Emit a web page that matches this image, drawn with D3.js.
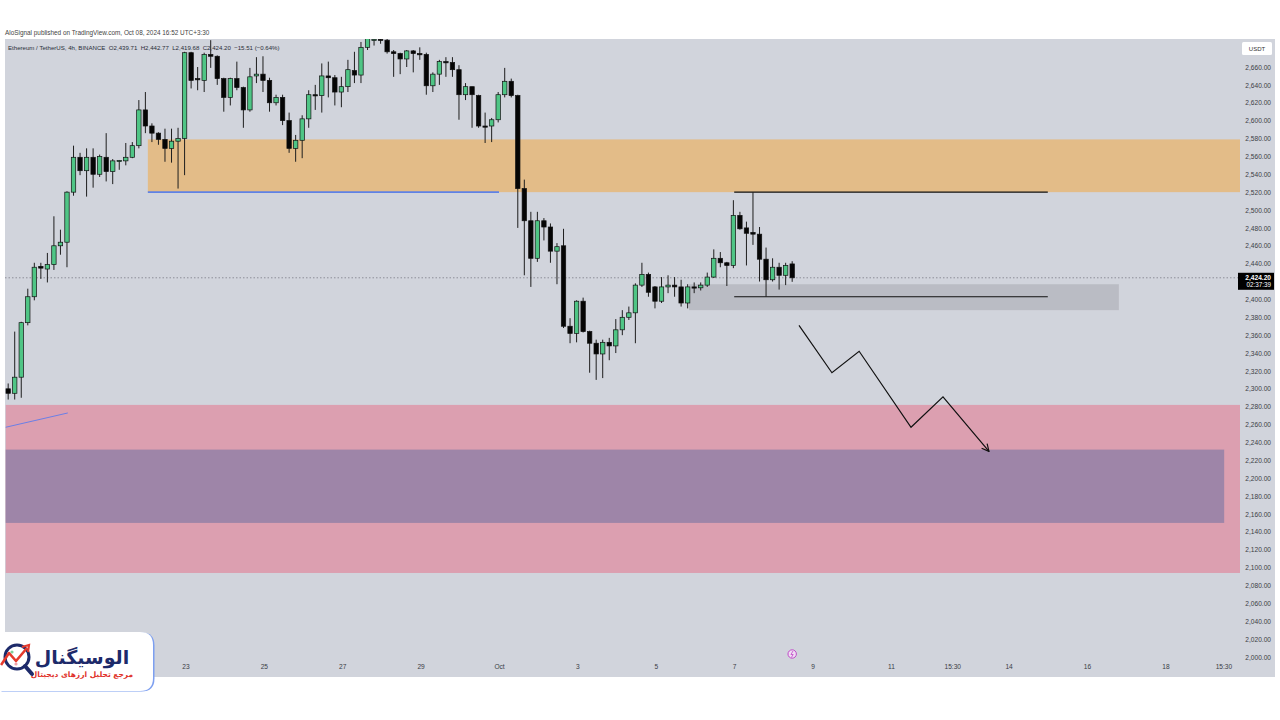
<!DOCTYPE html>
<html><head><meta charset="utf-8">
<script src="https://cdn.jsdelivr.net/npm/d3@7"></script>
<style>body{margin:0;background:#fff;} svg{display:block;font-family:"Liberation Sans",Arial,sans-serif;}</style>
</head><body><svg id="c" width="1280" height="720"></svg>
<script>
// ---------- DATA ----------
const firstCandle = "2024-09-18T11:30"; // open time (UTC+3:30) of first 4h candle
const opens  = [2300,2295,2313,2374,2403,2437,2434,2439,2460,2464,2520,2559,2544,2559,2540,2559,2543,2555,2555,2559,
                2572,2612,2594,2586,2579,2569,2577,2580,2676,2647,2645,2674,2672,2647,2626,2647,2637,2612,2650,2652,
                2645,2620,2626,2600,2569,2578,2602,2629,2628,2650,2648,2632,2638,2656,2651,2682,2690,2691,2690,2677,
                2675,2669,2678,2675,2674,2639,2652,2666,2665,2657,2629,2638,2628,2594,2594,2601,2629,2644,2628,2524,
                2488,2446,2488,2481,2454,2460,2370,2362,2398,2364,2351,2339,2352,2348,2366,2380,2385,2416,2428,2414,
                2398,2414,2416,2414,2396,2414,2413,2416,2425,2446,2441,2438,2494,2480,2475,2473,2445,2422,2436,2427,2439.71];
const highs  = [2306,2364,2375,2412,2441,2441,2452,2493,2478,2521,2572,2564,2569,2569,2562,2586,2557,2556,2575,2576,
                2623,2632,2597,2587,2591,2591,2592,2677,2677,2660,2676,2690,2673,2648,2648,2666,2638,2659,2671,2672,
                2648,2629,2629,2609,2584,2606,2634,2640,2664,2666,2651,2649,2668,2677,2688,2700,2696,2698,2698,2679,
                2676,2679,2679,2682,2676,2654,2668,2671,2671,2662,2642,2638,2629,2609,2603,2632,2659,2647,2629,2534,
                2498,2498,2491,2485,2463,2479,2379,2399,2402,2365,2355,2355,2357,2378,2388,2392,2418,2441,2430,2415,
                2425,2427,2425,2422,2417,2419,2419,2430,2456,2453,2442,2511,2498,2487,2520,2481,2458,2446,2441,2441,2442.77];
const lows   = [2288,2288,2290,2371,2399,2423,2419,2433,2450,2436,2516,2539,2515,2525,2537,2532,2529,2545,2550,2558,
                2569,2586,2576,2573,2554,2553,2524,2539,2636,2634,2632,2659,2640,2610,2617,2634,2592,2610,2642,2632,
                2610,2617,2595,2564,2554,2558,2592,2612,2609,2626,2617,2615,2632,2642,2642,2679,2684,2686,2675,2649,
                2652,2660,2654,2668,2629,2632,2640,2649,2649,2601,2623,2592,2592,2575,2576,2598,2626,2626,2480,2427,
                2414,2442,2466,2441,2417,2368,2351,2352,2363,2318,2310,2312,2332,2340,2360,2377,2351,2414,2403,2390,
                2396,2407,2403,2392,2390,2407,2410,2414,2424,2436,2415,2435,2478,2438,2461,2420,2403,2420,2411,2416,2419.68];
const closes = [2295,2313,2374,2403,2436,2435,2439,2460,2464,2520,2559,2544,2559,2540,2560,2543,2555,2555.5,2559,2572,
                2612,2594,2586,2579,2569,2577,2580,2676,2645,2646,2674,2672,2647,2626,2647,2637,2612,2649,2652,2645,
                2620,2626,2600,2569,2578,2602,2629,2628,2650,2648,2632,2638,2657,2651,2682,2692,2691,2690,2677,2675,
                2669,2678,2675,2674,2639,2652,2666,2665,2657,2629,2638,2629,2594,2593,2601,2629,2644,2628,2524,2488,
                2446,2488,2481,2454,2459,2370,2362,2398,2364,2351,2339,2352,2348,2366,2380,2385,2416,2428,2408,2398,
                2414,2416,2414,2396,2414,2413,2416,2425,2446,2441,2438,2494,2479,2474,2473,2445,2422,2436,2427,2438,2424.20];
const lastPrice = 2424.20;
const countdown = "02:37:39";
const priceTicks = [2000,2020,2040,2060,2080,2100,2120,2140,2160,2180,2200,2220,2240,2260,2280,2300,2320,2340,2360,2380,
                    2400,2440,2460,2480,2500,2520,2540,2560,2580,2600,2620,2640,2660];
const timeTickTimes  = ["2024-09-23T00:00","2024-09-25T00:00","2024-09-27T00:00","2024-09-29T00:00","2024-10-01T00:00",
                        "2024-10-03T00:00","2024-10-05T00:00","2024-10-07T00:00","2024-10-09T00:00","2024-10-11T00:00",
                        "2024-10-12T13:30","2024-10-14T00:00","2024-10-16T00:00","2024-10-18T00:00","2024-10-19T11:30"];
const timeTickLabels = ["23","25","27","29","Oct","3","5","7","9","11","15:30","14","16","18","15:30"];
// drawn zones: [start time, end time (null = to right edge), top price, bottom price]
const supplyZone = ["2024-09-22T01:00", null, 2579, 2520];
const demandZoneOuter = ["2024-09-18T10:00", null, 2282, 2094];
const demandZoneInner = ["2024-09-18T10:00", "2024-10-19T12:00", 2232, 2150];
const rangeZone = ["2024-10-05T20:20", "2024-10-16T19:30", 2417, 2388];
const blueLevel = ["2024-09-22T01:00", "2024-10-01T00:00", 2520];
const blueTrend = [["2024-09-18T10:00", 2257], ["2024-09-20T00:00", 2273]];
const highLevel = ["2024-10-07T00:00", "2024-10-15T00:00", 2520];
const lowLevel  = ["2024-10-07T00:00", "2024-10-15T00:00", 2403];
const projection = [["2024-10-08T15:40",2371],["2024-10-09T11:50",2318],["2024-10-10T04:30",2342],
                    ["2024-10-11T12:15",2257],["2024-10-12T07:50",2291],["2024-10-13T12:00",2230]];
const eventTime = "2024-10-08T11:30";
const headerText = "AloSignal published on TradingView.com, Oct 08, 2024 16:52 UTC+3:30";
const legendText = "Ethereum / TetherUS, 4h, BINANCE  O2,439.71  H2,442.77  L2,419.68  C2,424.20  \u221215.51 (\u22120.64%)";

// ---------- CHART ----------
const parse = d3.utcParse("%Y-%m-%dT%H:%M");
const svg = d3.select("#c");
const plot = {l:5, t:39, r:1240, b:677};
const dayPx = 39.2, oct1x = 499;
const x = d3.scaleUtc()
  .domain([parse("2024-09-23T00:00"), parse("2024-10-19T00:00")])
  .range([oct1x - 8*dayPx, oct1x + 18*dayPx]);
const y = d3.scaleLinear().domain([2000, 2660]).range([657, 67]);
const t0 = parse(firstCandle);
const candles = opens.map((o,i)=>({t:d3.utcHour.offset(t0, 4*i), o, h:highs[i], l:lows[i], c:closes[i]}));

// backgrounds
svg.append("rect").attr("x",plot.l).attr("y",plot.t).attr("width",1275-plot.l).attr("height",plot.b-plot.t).attr("fill","#d1d4dc");

svg.append("defs").append("clipPath").attr("id","clip")
  .append("rect").attr("x",plot.l).attr("y",plot.t).attr("width",plot.r-plot.l).attr("height",plot.b-plot.t);
const g = svg.append("g").attr("clip-path","url(#clip)");

function zone(z, color){
  const x0 = x(parse(z[0])), x1 = z[1] ? x(parse(z[1])) : plot.r;
  g.append("rect").attr("x",x0).attr("y",y(z[2])).attr("width",x1-x0).attr("height",y(z[3])-y(z[2])).attr("fill",color);
}
zone(supplyZone, "#e3bc88");
zone(demandZoneOuter, "#dc9fb0");
zone(demandZoneInner, "#9e85a8");
zone(rangeZone, "#babcc4");

// last price dashed line
g.append("line").attr("x1",plot.l).attr("x2",plot.r).attr("y1",y(lastPrice)).attr("y2",y(lastPrice))
  .attr("stroke","#7b7e86").attr("stroke-width",0.8).attr("stroke-dasharray","1.5,2");

// level lines
g.append("line").attr("x1",x(parse(blueLevel[0]))).attr("x2",x(parse(blueLevel[1])))
  .attr("y1",y(blueLevel[2])).attr("y2",y(blueLevel[2])).attr("stroke","#5f82e6").attr("stroke-width",1.8);
g.append("line").attr("x1",x(parse(blueTrend[0][0]))).attr("y1",y(blueTrend[0][1]))
  .attr("x2",x(parse(blueTrend[1][0]))).attr("y2",y(blueTrend[1][1])).attr("stroke","#6b7fe6").attr("stroke-width",1);
[highLevel, lowLevel].forEach(l=>{
  g.append("line").attr("x1",x(parse(l[0]))).attr("x2",x(parse(l[1])))
    .attr("y1",y(l[2])).attr("y2",y(l[2])).attr("stroke","#111").attr("stroke-width",1.2);
});

// candles
const bw = 4.4;
const cg = g.append("g");
cg.selectAll("line.wick").data(candles).join("line").attr("class","wick")
  .attr("x1",d=>x(d.t)).attr("x2",d=>x(d.t)).attr("y1",d=>y(d.h)).attr("y2",d=>y(d.l))
  .attr("stroke","#1e1e1e").attr("stroke-width",1);
cg.selectAll("rect.body").data(candles).join("rect").attr("class","body")
  .attr("x",d=>x(d.t)-bw/2).attr("width",bw)
  .attr("y",d=>y(Math.max(d.o,d.c)))
  .attr("height",d=>Math.max(1.2, Math.abs(y(d.o)-y(d.c))))
  .attr("fill",d=>d.c>=d.o?"#4fc585":"#050505")
  .attr("stroke","#111").attr("stroke-width",0.7);

// projection arrow
const defs = svg.select("defs");
defs.append("marker").attr("id","arr").attr("viewBox","0 0 10 10").attr("refX",9).attr("refY",5)
  .attr("markerWidth",9).attr("markerHeight",9).attr("markerUnits","userSpaceOnUse").attr("orient","auto")
  .append("path").attr("d","M1,1 L9,5 L1,9").attr("fill","none").attr("stroke","#111").attr("stroke-width",1.3);
g.append("path").datum(projection)
  .attr("d", d3.line().x(d=>x(parse(d[0]))).y(d=>y(d[1])))
  .attr("fill","none").attr("stroke","#111").attr("stroke-width",1.2).attr("marker-end","url(#arr)");

// event marker
const ex = x(parse(eventTime));
svg.append("circle").attr("cx",ex).attr("cy",654).attr("r",4.2).attr("fill","#f0dcf4").attr("stroke","#c04bc8").attr("stroke-width",1);
svg.append("path").attr("d",`M${ex+0.8},${651} L${ex-1.2},${654.5} L${ex+1},${654.5} L${ex-0.8},${657.5}`)
  .attr("fill","none").attr("stroke","#c04bc8").attr("stroke-width",0.8);

// y axis
const ya = svg.append("g").attr("transform",`translate(1271,0)`)
  .call(d3.axisRight(y).tickValues(priceTicks).tickFormat(d3.format(",.2f")).tickSize(0).tickPadding(0));
ya.select(".domain").remove();
ya.selectAll("text").attr("text-anchor","end").attr("fill","#3a3d45").attr("font-size",6.6)
  .attr("font-family","'Liberation Sans',Arial,sans-serif");

// x axis
const labelMap = new Map(timeTickTimes.map((t,i)=>[+parse(t), timeTickLabels[i]]));
const xa = svg.append("g").attr("transform",`translate(0,664)`)
  .call(d3.axisBottom(x).tickValues(timeTickTimes.map(parse)).tickFormat(d=>labelMap.get(+d)).tickSize(0).tickPadding(0));
xa.select(".domain").remove();
xa.selectAll("text").attr("fill","#3a3d45").attr("font-size",6.6).attr("font-family","'Liberation Sans',Arial,sans-serif");

// USDT box
svg.append("rect").attr("x",1242).attr("y",42).attr("width",30).attr("height",13).attr("fill","#fff").attr("rx",1.5);
svg.append("text").attr("x",1257).attr("y",51).attr("text-anchor","middle").attr("font-size",6).attr("fill","#333").text("USDT");

// last price label
const py = y(lastPrice);
svg.append("rect").attr("x",1238).attr("y",py-5).attr("width",36).attr("height",17).attr("fill","#000");
svg.append("text").attr("x",1271).attr("y",py+2).attr("text-anchor","end").attr("font-size",6.6).attr("font-weight","bold").attr("fill","#fff").text(d3.format(",.2f")(lastPrice));
svg.append("text").attr("x",1271).attr("y",py+9.5).attr("text-anchor","end").attr("font-size",6.3).attr("fill","#fff").text(countdown);

// header texts
svg.append("text").attr("x",5).attr("y",35).attr("font-size",6.4).attr("fill","#444").text(headerText);
svg.append("text").attr("x",8).attr("y",49.5).attr("font-size",6.1).attr("fill","#2a2e39").style("white-space","pre").text(legendText);

// logo
const lg = svg.append("g");
const logoPath = "M0,632 H140 Q153,632 153,645 V678 Q153,691 140,691 H0 Z";
lg.append("path").attr("d",logoPath).attr("transform","translate(1.5,0.5)").attr("fill","#7d9ff0");
lg.append("path").attr("d",logoPath).attr("fill","#fff");
lg.append("circle").attr("cx",17).attr("cy",657).attr("r",12).attr("fill","none").attr("stroke","#1d2a6a").attr("stroke-width",3);
lg.append("line").attr("x1",25).attr("y1",666).attr("x2",32).attr("y2",674).attr("stroke","#1d2a6a").attr("stroke-width",4).attr("stroke-linecap","round");
lg.append("circle").attr("cx",12).attr("cy",652).attr("r",1.6).attr("fill","#7fcf9a");
lg.append("circle").attr("cx",16).attr("cy",664).attr("r",1.6).attr("fill","#f0a0a8");
lg.append("polyline").attr("points","1,665 9,653 16,661 27,648").attr("fill","none").attr("stroke","#e53a2c").attr("stroke-width",2.6).attr("stroke-linejoin","round");
lg.append("path").attr("d","M22,647 L29,645 L28,652").attr("fill","none").attr("stroke","#e53a2c").attr("stroke-width",2.2);
lg.append("text").attr("x",82).attr("y",664).attr("text-anchor","middle").attr("direction","rtl")
  .attr("font-family","'DejaVu Sans',sans-serif").attr("font-weight","bold").attr("font-size",19).attr("fill","#1d2a6a").text("الوسیگنال");
lg.append("text").attr("x",82).attr("y",677).attr("text-anchor","middle").attr("direction","rtl")
  .attr("font-family","'DejaVu Sans',sans-serif").attr("font-weight","bold").attr("font-size",7.5).attr("fill","#e0322b").text("مرجع تحلیل ارزهای دیجیتال");
</script></body></html>
